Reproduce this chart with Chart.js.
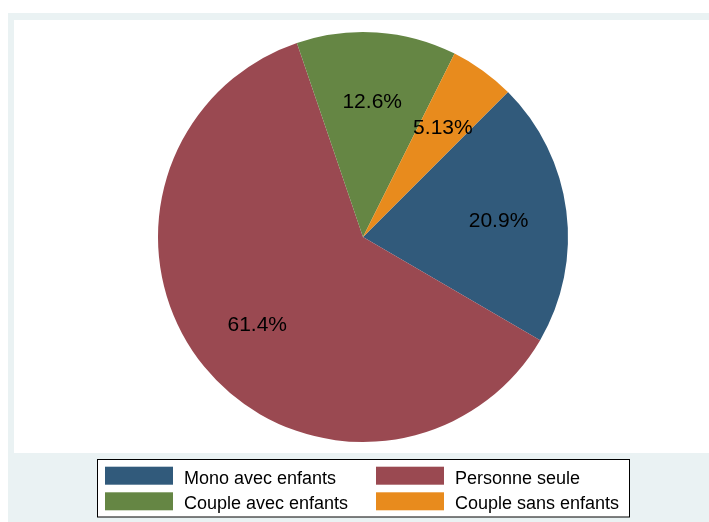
<!DOCTYPE html>
<html>
<head>
<meta charset="utf-8">
<script src="https://cdn.jsdelivr.net/npm/chart.js@4"></script>
<style>
  html, body { margin: 0; padding: 0; background: #ffffff; }
  canvas { display: block; }
</style>
</head>
<body>
<canvas id="pie" width="709" height="522"></canvas>
<script>
// Household types and their shares (%)
const categories = ['Mono avec enfants', 'Personne seule', 'Couple avec enfants', 'Couple sans enfants'];
const shares = [20.9, 61.4, 12.6, 5.13];
const sliceColors = ['#315a7b', '#9a4951', '#658644', '#e88b1d'];

const FONT = '"Liberation Sans", Arial, Helvetica, sans-serif';

// Graph region background and plot region
const backdrop = {
  id: 'backdrop',
  beforeDraw(chart) {
    const ctx = chart.ctx;
    ctx.save();
    ctx.fillStyle = '#ffffff';
    ctx.fillRect(0, 0, chart.width, chart.height);
    ctx.fillStyle = '#eaf2f3';
    ctx.fillRect(8, 13, chart.width - 8, chart.height - 13);
    ctx.fillStyle = '#ffffff';
    ctx.fillRect(14, 20, chart.width - 14, 433);
    ctx.restore();
  }
};

// Percentage labels at two thirds of the radius
const sliceLabels = {
  id: 'sliceLabels',
  afterDatasetsDraw(chart) {
    const ctx = chart.ctx;
    const meta = chart.getDatasetMeta(0);
    const values = chart.data.datasets[0].data;
    ctx.save();
    ctx.font = '21px ' + FONT;
    ctx.fillStyle = '#000000';
    ctx.textAlign = 'center';
    ctx.textBaseline = 'alphabetic';
    meta.data.forEach((arc, i) => {
      const p = arc.getProps(['x', 'y', 'startAngle', 'endAngle', 'outerRadius'], true);
      const mid = (p.startAngle + p.endAngle) / 2;
      const r = p.outerRadius * 2 / 3;
      const x = p.x + Math.cos(mid) * r;
      const y = p.y + Math.sin(mid) * r;
      ctx.fillText(values[i] + '%', x, y + 7.5);
    });
    ctx.restore();
  }
};

// Boxed two-column legend below the pie
const boxLegend = {
  id: 'boxLegend',
  afterDraw(chart) {
    const ctx = chart.ctx;
    const labels = chart.data.labels;
    const colors = chart.data.datasets[0].backgroundColor;
    const box = { x: 97.5, y: 459.5, w: 532, h: 57.5 };
    ctx.save();
    ctx.fillStyle = '#ffffff';
    ctx.fillRect(box.x, box.y, box.w, box.h);
    ctx.strokeStyle = '#000000';
    ctx.lineWidth = 1;
    ctx.strokeRect(box.x, box.y, box.w, box.h);
    const colX = [105, 376];
    const rowY = [466.7, 492.3];
    ctx.font = '18px ' + FONT;
    ctx.textAlign = 'left';
    ctx.textBaseline = 'alphabetic';
    labels.forEach((lab, i) => {
      const cx = colX[i % 2];
      const ry = rowY[Math.floor(i / 2)];
      ctx.fillStyle = colors[i];
      ctx.fillRect(cx, ry, 68, 18);
      ctx.fillStyle = '#000000';
      ctx.fillText(lab, cx + 79, ry + 17);
    });
    ctx.restore();
  }
};

new Chart(document.getElementById('pie'), {
  type: 'pie',
  data: {
    labels: categories,
    datasets: [{
      data: shares,
      backgroundColor: sliceColors,
      borderWidth: 0
    }]
  },
  options: {
    responsive: false,
    animation: false,
    rotation: 45,
    layout: { padding: { left: 158, right: 141, top: 32, bottom: 80 } },
    plugins: {
      legend: { display: false },
      tooltip: { enabled: false }
    }
  },
  plugins: [backdrop, sliceLabels, boxLegend]
});
</script>
</body>
</html>
